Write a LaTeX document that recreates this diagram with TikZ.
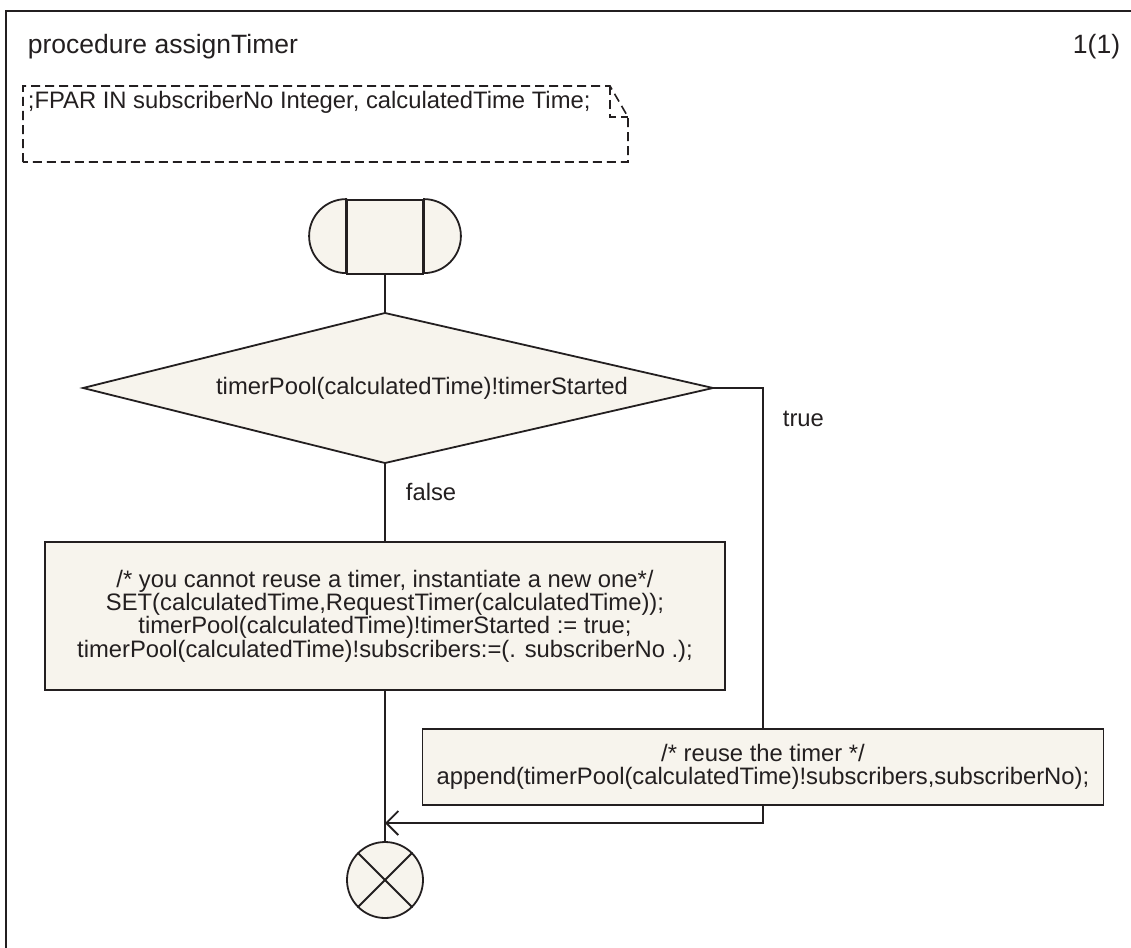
\documentclass[tikz,border=0pt]{standalone}
\usepackage{fontspec}
\setmainfont{Liberation Sans}
\usetikzlibrary{arrows.meta}
\definecolor{ink}{RGB}{35,31,32}
\definecolor{paper}{RGB}{247,244,237}
\begin{document}
\begin{tikzpicture}[x=1pt,y=-1pt,line width=1.8pt,
  every node/.style={text=ink,inner sep=0pt},
  body/.style={font=\fontsize{23.8}{23.3}\selectfont,align=center},
  titletext/.style={font=\fontsize{26.5}{28}\selectfont},
  taskbox/.style={draw=ink,fill=paper,body},
  note/.style={draw=ink,dash pattern=on 9pt off 5pt,line width=1.6pt},
  flow/.style={draw=ink},
  barb/.style={-{Straight Barb[length=12pt,width=24pt,line width=1.8pt]}}]

% page area and frame
\path[clip] (0,0) rectangle (1131,947);
\draw[ink,line width=2pt] (6,960) -- (6,11) -- (1140,11);

% heading
\node[titletext,anchor=base west] (title) at (27,54) {procedure assignTimer};
\node[titletext,anchor=base east] (page) at (1121,54) {1(1)};

% formal parameters text symbol
\draw[note] (23,162) -- (23,86) -- (610,86) -- (628,117) -- (628,162) -- cycle;
\draw[note] (610,86) -- (610,117) -- (628,117);
\node[body,anchor=base west] (fpar) at (27,109) {;FPAR IN subscriberNo Integer, calculatedTime Time;};

% procedure start
\node[draw=ink,fill=paper,minimum width=76pt,minimum height=74pt] (start) at (385,237) {};
\draw[ink,fill=paper] (start.north west) arc (270:90:37) -- cycle;
\draw[ink,fill=paper] (start.north east) arc (270:450:37) -- cycle;

% decision
\coordinate (dL) at (83,388);
\coordinate (dT) at (385,313);
\coordinate (dR) at (713,388);
\coordinate (dB) at (385,463);
\draw[ink,fill=paper] (dL) -- (dT) -- (dR) -- (dB) -- cycle;
\node[body] (question) at (422,388) {timerPool(calculatedTime)!timerStarted};

% tasks
\node[taskbox,minimum width=680pt,minimum height=148pt] (newtimer) at (385,616)
  {/* you cannot reuse a timer, instantiate a new one*/\\
   SET(calculatedTime,RequestTimer(calculatedTime));\\
   timerPool(calculatedTime)!timerStarted := true;\\
   timerPool(calculatedTime)!subscribers:=(. subscriberNo .);};
\node[taskbox,minimum width=681pt,minimum height=76pt] (reuse) at (763,767)
  {/* reuse the timer */\\
   append(timerPool(calculatedTime)!subscribers,subscriberNo);};

% return
\node[circle,draw=ink,fill=paper,minimum size=76pt] (stop) at (385,880) {};
\draw[ink] (stop.north west) -- (stop.south east);
\draw[ink] (stop.north east) -- (stop.south west);

% flow lines
\coordinate (join) at (385,823);
\draw[flow] (start.south) -- (dT);
\draw[flow] (dB) -- (newtimer.north);
\draw[flow] (dR) -| (reuse.north);
\draw[flow] (newtimer.south) -- (stop.north);
\draw[flow,barb] (reuse.south) |- (join);

% answers
\node[body,anchor=base west] (ansfalse) at (405,500) {false};
\node[body,anchor=base west] (anstrue) at (782,426) {true};
\end{tikzpicture}
\end{document}
